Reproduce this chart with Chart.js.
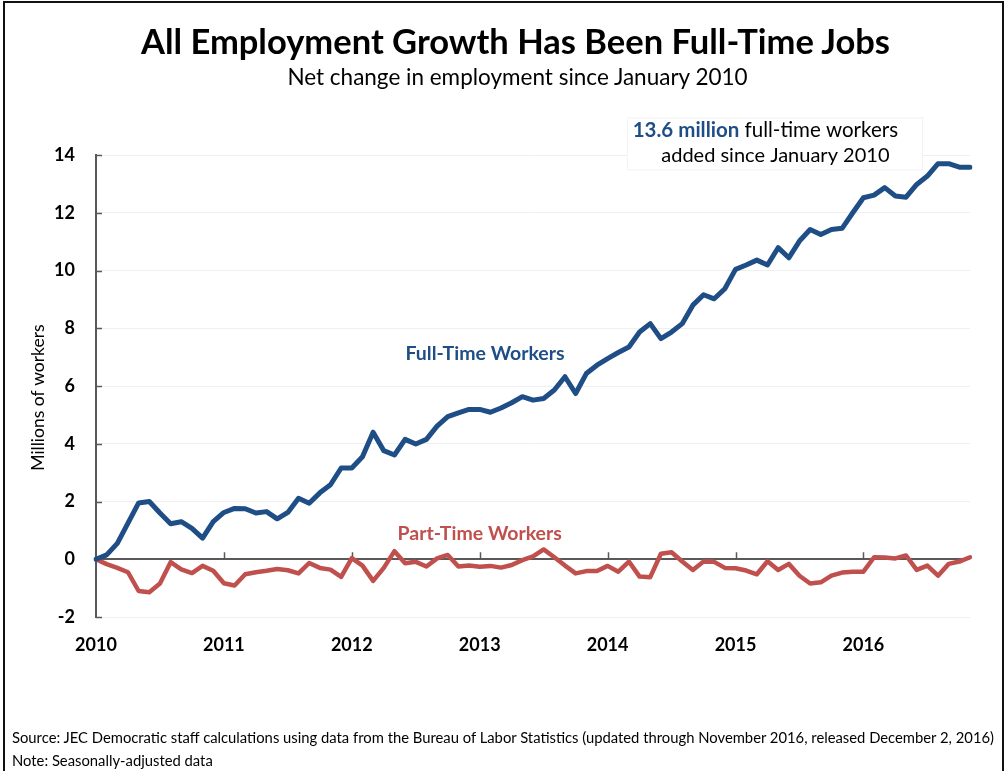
<!DOCTYPE html>
<html>
<head>
<meta charset="utf-8">
<title>All Employment Growth Has Been Full-Time Jobs</title>
<script src="https://cdn.jsdelivr.net/npm/chart.js@4.4.1/dist/chart.umd.min.js"></script>
<style>
  html, body { margin: 0; padding: 0; background: #fff; }
  #page { position: relative; width: 1007px; height: 771px; overflow: hidden; font-family: Lato, 'Open Sans', sans-serif; color: #000; }
  #frame { position: absolute; left: 3px; top: 1px; width: 997px; height: 820px; border: 2px solid #111; border-bottom: none; }
  #chart { position: absolute; left: 0; top: 0; }
  .title { position: absolute; left: 12px; width: 1007px; text-align: center; top: 20px; font-size: 34.5px; line-height: 42px; font-weight: bold; }
  .subtitle { position: absolute; left: 14px; width: 1007px; text-align: center; top: 63px; font-size: 22.5px; line-height: 27px; }
  .foot { position: absolute; left: 12px; font-size: 14.8px; line-height: 18px; white-space: nowrap; }
</style>
</head>
<body>
<div id="page">
  <canvas id="chart" width="1007" height="771"></canvas>
  <div id="frame"></div>
  <div class="title">All Employment Growth Has Been Full-Time Jobs</div>
  <div class="subtitle">Net change in employment since January 2010</div>
  <div class="foot" style="top: 728px;">Source: JEC Democratic staff calculations using data from the Bureau of Labor Statistics (updated through November 2016, released December 2, 2016)</div>
  <div class="foot" style="top: 751px;">Note: Seasonally-adjusted data</div>
</div>
<script>
// monthly series, January 2010 through November 2016 (millions of workers, change since Jan 2010)
const years = ['2010', '2011', '2012', '2013', '2014', '2015', '2016'];
const monthNames = ['Jan', 'Feb', 'Mar', 'Apr', 'May', 'Jun', 'Jul', 'Aug', 'Sep', 'Oct', 'Nov', 'Dec'];
const monthsInLastYear = 11;

const fullTime = [
    0, 0.15, 0.55, 1.25, 1.95, 2.0, 1.6, 1.23, 1.3, 1.07, 0.73, 1.3,
    1.62, 1.76, 1.75, 1.6, 1.65, 1.4, 1.62, 2.11, 1.94, 2.3, 2.58, 3.16,
    3.16, 3.55, 4.4, 3.76, 3.61, 4.15, 3.99, 4.15, 4.61, 4.94, 5.07, 5.19,
    5.19, 5.09, 5.24, 5.42, 5.63, 5.51, 5.57, 5.86, 6.32, 5.74, 6.43, 6.72,
    6.95, 7.16, 7.35, 7.87, 8.16, 7.64, 7.87, 8.16, 8.8, 9.16, 9.02, 9.37,
    10.04, 10.19, 10.36, 10.19, 10.79, 10.44, 11.02, 11.42, 11.25, 11.42, 11.46, 12.0,
    12.52, 12.61, 12.87, 12.58, 12.54, 12.98, 13.27, 13.7, 13.7, 13.58, 13.58
];

const partTime = [
    0, -0.17, -0.3, -0.45, -1.1, -1.14, -0.84, -0.1, -0.35, -0.48, -0.23, -0.4,
    -0.83, -0.91, -0.52, -0.45, -0.4, -0.34, -0.38, -0.49, -0.13, -0.3, -0.36, -0.61,
    0.04, -0.22, -0.75, -0.3, 0.28, -0.14, -0.09, -0.25, 0.03, 0.15, -0.25, -0.22,
    -0.26, -0.23, -0.29, -0.2, -0.03, 0.1, 0.34, 0.07, -0.22, -0.49, -0.41, -0.41,
    -0.23, -0.43, -0.08, -0.6, -0.62, 0.19, 0.24, -0.08, -0.37, -0.08, -0.09, -0.3,
    -0.31, -0.39, -0.52, -0.07, -0.37, -0.16, -0.57, -0.84, -0.8, -0.57, -0.46, -0.43,
    -0.43, 0.07, 0.06, 0.03, 0.13, -0.37, -0.22, -0.57, -0.16, -0.08, 0.07
];

const addedTotal = '13.6 million';

const BLUE = '#1f4e87';
const RED = '#c0504d';
const AXIS = '#595959';
const FONT = 'Lato';

const labels = [];
years.forEach((yr, k) => {
    const n = k === years.length - 1 ? monthsInLastYear : 12;
    for (let m = 0; m < n; m++) labels.push(monthNames[m] + ' ' + yr);
});

// inside tick marks, the year ticks on the zero line and the text callouts
const chartMarks = {
    id: 'chartMarks',
    beforeDatasetsDraw(chart) {
        const { ctx, scales: { x, y } } = chart;
        ctx.save();
        ctx.strokeStyle = AXIS;
        ctx.lineWidth = 1.5;
        const zero = y.getPixelForValue(0);
        labels.forEach((lbl, i) => {
            if (i === 0 || !lbl.startsWith('Jan')) return;
            const px = Math.round(x.getPixelForValue(i)) + 0.5;
            ctx.beginPath();
            ctx.moveTo(px, zero);
            ctx.lineTo(px, zero - 7);
            ctx.stroke();
        });
        y.ticks.forEach(t => {
            const py = Math.round(y.getPixelForValue(t.value)) + 0.5;
            ctx.beginPath();
            ctx.moveTo(y.right, py);
            ctx.lineTo(y.right + 6, py);
            ctx.stroke();
        });

        // white box behind the total callout
        const box = calloutBox(chart);
        ctx.fillStyle = '#fff';
        ctx.strokeStyle = '#f3f3f3';
        ctx.lineWidth = 1;
        ctx.fillRect(box.left, box.top, box.width, box.height);
        ctx.strokeRect(box.left + 0.5, box.top + 0.5, box.width, box.height);

        // vertical axis title, set a little below the middle of the plot
        ctx.translate(38, y.getPixelForValue(5.6));
        ctx.rotate(-Math.PI / 2);
        ctx.textAlign = 'center';
        ctx.textBaseline = 'middle';
        ctx.fillStyle = '#000';
        ctx.font = '17.5px ' + FONT;
        ctx.fillText('Millions of workers', 0, 0);
        ctx.restore();
    },
    afterDatasetsDraw(chart) {
        const { ctx, scales: { x, y } } = chart;
        ctx.save();
        ctx.textAlign = 'center';
        ctx.textBaseline = 'middle';
        ctx.font = 'bold 19.5px ' + FONT;
        ctx.fillStyle = BLUE;
        ctx.fillText('Full-Time Workers', x.getPixelForValue(36.5), y.getPixelForValue(7.13));
        ctx.fillStyle = RED;
        ctx.fillText('Part-Time Workers', x.getPixelForValue(36), y.getPixelForValue(0.87));

        // two-line callout about the full-time total
        const cx = x.getPixelForValue(62.8);
        ctx.textAlign = 'left';
        ctx.font = 'bold 20.5px ' + FONT;
        const boldW = ctx.measureText(addedTotal).width;
        ctx.font = '20.5px ' + FONT;
        const restText = ' full-time workers';
        const restW = ctx.measureText(restText).width;
        const startX = cx - (boldW + restW) / 2;
        const line1 = y.getPixelForValue(14.85);
        const line2 = y.getPixelForValue(13.98);
        ctx.font = 'bold 20.5px ' + FONT;
        ctx.fillStyle = BLUE;
        ctx.fillText(addedTotal, startX, line1);
        ctx.font = '20.5px ' + FONT;
        ctx.fillStyle = '#000';
        ctx.fillText(restText, startX + boldW, line1);
        ctx.font = '20px ' + FONT;
        ctx.textAlign = 'center';
        ctx.fillText('added since January 2010', cx + 10, line2);
        ctx.restore();
    }
};

function calloutBox(chart) {
    const { x, y } = chart.scales;
    const left = x.getPixelForValue(49.8);
    const right = x.getPixelForValue(77.5);
    const top = y.getPixelForValue(15.3);
    const bottom = y.getPixelForValue(13.5);
    return { left, top, width: right - left, height: bottom - top };
}

new Chart(document.getElementById('chart'), {
    type: 'line',
    data: {
        labels: labels,
        datasets: [
            {
                label: 'Full-Time Workers',
                data: fullTime,
                borderColor: BLUE,
                borderWidth: 5,
                pointRadius: 0,
                tension: 0,
                borderJoinStyle: 'round',
                borderCapStyle: 'round'
            },
            {
                label: 'Part-Time Workers',
                data: partTime,
                borderColor: RED,
                borderWidth: 4.5,
                pointRadius: 0,
                tension: 0,
                borderJoinStyle: 'round',
                borderCapStyle: 'round'
            }
        ]
    },
    options: {
        responsive: false,
        animation: false,
        layout: {
            padding: { left: 28, top: 155, right: 37, bottom: 104 }
        },
        plugins: {
            legend: { display: false },
            tooltip: { enabled: false }
        },
        scales: {
            x: {
                offset: false,
                grid: { display: false, drawTicks: false },
                border: { display: false },
                ticks: {
                    autoSkip: false,
                    maxRotation: 0,
                    padding: 17,
                    color: '#000',
                    font: { family: FONT, size: 18, weight: 'bold' },
                    callback: (val, i) => labels[i].startsWith('Jan') ? labels[i].slice(4) : ''
                },
                afterFit: scale => { scale.height = 50; }
            },
            y: {
                min: -2,
                max: 14,
                ticks: {
                    stepSize: 2,
                    padding: 21,
                    color: '#000',
                    font: { family: FONT, size: 18, weight: 'bold' }
                },
                grid: {
                    drawTicks: false,
                    color: ctx => ctx.tick && ctx.tick.value === 0 ? AXIS : '#efefef',
                    lineWidth: ctx => ctx.tick && ctx.tick.value === 0 ? 2 : 1
                },
                border: { color: AXIS, width: 2 },
                afterFit: scale => { scale.width = 68; }
            }
        }
    },
    plugins: [chartMarks]
});
</script>
</body>
</html>
